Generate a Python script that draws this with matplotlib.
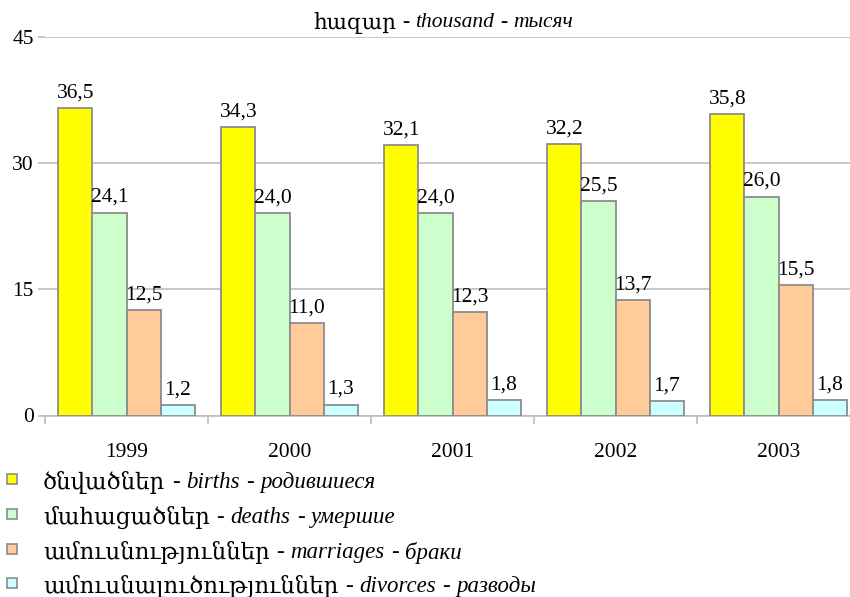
import matplotlib
matplotlib.use("Agg")
import matplotlib.pyplot as plt
import numpy as np

# Données (milliers)
annees = ['1999', '2000', '2001', '2002', '2003']
naissances = [36.5, 34.3, 32.1, 32.2, 35.8]
deces = [24.1, 24.0, 24.0, 25.5, 26.0]
mariages = [12.5, 11.0, 12.3, 13.7, 15.5]
divorces = [1.2, 1.3, 1.8, 1.7, 1.8]

series = [naissances, deces, mariages, divorces]
couleurs = ['#FFFF00', '#CCFFCC', '#FFCC99', '#CCFFFF']
legende = [
    ('ծնվածներ', 'births', 'родившиеся'),
    ('մահացածներ', 'deaths', 'умершие'),
    ('ամուսնություններ', 'marriages', 'браки'),
    ('ամուսնալուծություններ', 'divorces', 'разводы'),
]
titre = ('հազար', 'thousand', 'тысяч')

FAMILLE = ['Liberation Serif', 'DejaVu Serif', 'DejaVu Sans']
plt.rcParams['font.family'] = FAMILLE

W, H = 850, 597
fig = plt.figure(figsize=(W / 100, H / 100), dpi=100)

# zone du graphe en pixels (gauche 45, droite 860 -> coupée, haut 36.5, bas 415.5)
x0, x1, y_haut, y_bas = 45, 860, 36.5, 415.5
ax = fig.add_axes([x0 / W, (H - y_bas) / H, (x1 - x0) / W, (y_bas - y_haut) / H])

largeur = 0.209
x = np.arange(len(annees)) + 0.5
for k, (valeurs, c) in enumerate(zip(series, couleurs)):
    pos = x + (k - 1.5) * largeur
    ax.bar(pos, valeurs, width=largeur, color=c, edgecolor='#8C8C8C',
           linewidth=1.3, zorder=3)
    for p, v in zip(pos, valeurs):
        ax.annotate('{:.1f}'.format(v).replace('.', ','), xy=(p, v),
                    xytext=(0, 4), textcoords='offset points',
                    ha='center', va='bottom', fontsize=15.5, zorder=4)

ax.set_xlim(0, 5)
ax.set_ylim(0, 45)
ax.set_yticks([0, 15, 30, 45])
ax.yaxis.grid(True, color='#BDBDBD', linewidth=1.2, zorder=0)
ax.set_axisbelow(True)
for s in ['top', 'right', 'left']:
    ax.spines[s].set_visible(False)
ax.spines['bottom'].set_color('#BDBDBD')
ax.spines['bottom'].set_linewidth(1.2)
ax.tick_params(axis='y', length=5, color='#BDBDBD', width=1.2, labelsize=15.5, pad=3)
ax.set_xticks(np.arange(6))
ax.set_xticklabels([])
ax.tick_params(axis='x', which='major', length=6, color='#BDBDBD', width=1.2)
ax.set_xticks(x, minor=True)
ax.set_xticklabels(annees, minor=True, fontsize=15.5)
ax.tick_params(axis='x', which='minor', length=0, pad=20)

fig.canvas.draw()
renderer = fig.canvas.get_renderer()


def texte_mixte(morceaux, xpix, ypix, taille):
    # morceaux: liste de (texte, style); écrit bout à bout, centré verticalement sur ypix
    espace = taille * 100 / 72 * 0.28
    xc = xpix
    for t, style in morceaux:
        obj = fig.text(xc / W, 1 - ypix / H, t, fontsize=taille, style=style,
                       ha='left', va='center_baseline')
        bb = obj.get_window_extent(renderer)
        xc = bb.x1 + espace
    return xc


def morceaux_de(arm, eng, rus):
    return [(arm, 'normal'), ('-', 'normal'), (eng, 'italic'),
            ('-', 'normal'), (rus, 'italic')]


# titre : mesure de la largeur pour centrer
larg_titre = texte_mixte(morceaux_de(*titre), 0, -100, 15.5)
for t in fig.texts[:]:
    t.remove()
texte_mixte(morceaux_de(*titre), 446 - larg_titre / 2, 20, 15.5)

# légende
lignes_y = [479, 514, 549, 583]
for (arm, eng, rus), c, yl in zip(legende, couleurs, lignes_y):
    fig.patches.append(plt.Rectangle((7 / W, 1 - (yl + 5) / H), 10 / W, 10 / H,
                                     facecolor=c, edgecolor='#8C8C8C', linewidth=1.2,
                                     transform=fig.transFigure, figure=fig))
    texte_mixte(morceaux_de(arm, eng, rus), 43, yl + 1, 16.5)

fig.savefig('out.png', dpi=100)
